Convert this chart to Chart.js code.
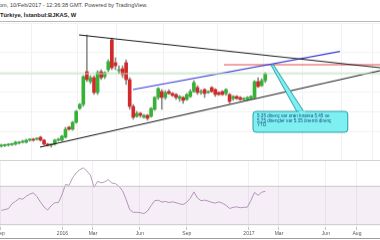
<!DOCTYPE html>
<html>
<head>
<meta charset="utf-8">
<script src="https://cdn.jsdelivr.net/npm/chart.js@4.4.1/dist/chart.umd.min.js"></script>
<style>
  html, body { margin: 0; padding: 0; background: #fff; }
  body { width: 380px; height: 240px; position: relative; overflow: hidden; font-family: "Liberation Sans", Arial, sans-serif; }
  #head { height: 21px; border-bottom: 1px solid #b8b8b8; }
  #head div { height: 10px; line-height: 10px; white-space: nowrap; }
  #main { display: block; margin-top: 1px; border-bottom: 1px solid #d2d2d2; }
  #rsi { display: block; }
  #foot { position: absolute; left: 0; top: 238px; width: 380px; height: 1px; background: #9c9c9c; }
</style>
</head>
<body>
<div id="head">
  <div style="font-size:5.6px;color:#444;margin-left:-1px">om, 10/Feb/2017 - 12:36:38 GMT. Powered by TradingView.</div>
  <div style="font-size:5.8px;color:#222;font-weight:bold">Türkiye, İstanbul:BJKAS, W</div>
</div>
<canvas id="main" width="380" height="138"></canvas>
<canvas id="rsi" width="380" height="78"></canvas>
<div id="foot"></div>

<script>
// weekly bars, x = days since 1 Jan 2016
const firstWeek = -120;
const opens  = [1.25,1.275,1.30,1.325,1.35,1.40,1.45,1.45,1.55,1.60,1.60,1.70,1.55,1.35,1.30,1.35,1.55,1.55,1.70,2.20,
                2.10,2.45,3.15,3.35,5.00,4.50,4.70,3.95,5.00,4.75,5.10,6.60,5.45,5.05,5.15,5.45,4.60,3.25,2.75,2.90,
                2.70,2.80,2.75,3.10,3.70,4.00,3.70,4.00,3.90,3.85,3.65,3.70,3.60,3.75,4.00,4.20,3.95,4.10,3.95,4.20,
                4.10,3.95,4.00,3.90,3.85,3.65,3.75,3.70,3.60,3.60,3.65,3.70,4.50,4.30,4.55];
const highs  = [1.35,1.35,1.375,1.40,1.50,1.50,1.55,1.60,1.625,1.65,1.675,1.75,1.60,1.40,1.375,1.60,1.65,1.80,2.20,2.25,
                2.50,3.05,3.40,4.80,6.85,4.80,4.80,5.05,5.10,5.00,5.60,6.70,5.70,5.30,5.30,5.60,4.70,3.35,3.00,2.95,
                2.85,2.85,3.20,3.75,4.20,4.10,4.05,4.10,3.95,3.90,3.80,3.75,3.90,4.10,4.55,4.30,4.10,4.15,4.05,4.25,
                4.15,4.00,4.05,4.15,3.90,3.80,3.80,3.75,3.70,3.75,3.80,4.55,4.70,4.65,4.95];
const lows   = [1.20,1.225,1.25,1.275,1.30,1.35,1.40,1.40,1.50,1.50,1.55,1.50,1.30,1.25,1.20,1.30,1.50,1.50,1.65,2.05,
                2.05,2.40,3.10,3.25,4.50,4.40,3.85,3.85,4.60,4.65,5.00,5.10,5.10,4.90,4.70,4.35,3.10,2.60,2.70,2.70,
                2.65,2.55,2.70,3.05,3.60,3.10,3.60,3.85,3.75,3.60,3.50,3.40,3.55,3.70,3.95,3.85,3.85,3.70,3.90,3.95,
                3.75,3.80,3.80,3.80,3.40,3.55,3.60,3.55,3.55,3.55,3.60,3.65,4.20,4.25,4.45];
const closes = [1.30,1.30,1.325,1.35,1.45,1.45,1.50,1.55,1.575,1.55,1.625,1.55,1.35,1.30,1.325,1.55,1.60,1.75,2.10,2.10,
                2.45,3.00,3.35,4.75,4.60,4.70,3.95,4.95,4.70,4.95,5.50,5.20,5.30,5.10,4.85,4.60,3.25,2.70,2.90,2.80,
                2.80,2.65,3.15,3.70,4.15,3.70,3.95,3.90,3.80,3.70,3.75,3.55,3.85,4.00,4.45,3.95,4.00,3.90,4.00,4.00,
                3.85,3.85,3.85,4.10,3.50,3.75,3.65,3.60,3.65,3.70,3.75,4.50,4.25,4.55,4.90];
const rsi    = [44.9,45.8,46.7,51.9,54.3,57.3,56.5,59.7,61.8,63.2,59.2,53.6,48.4,45.2,49.8,52.9,53.0,61.0,71.9,71.0,
                78.9,83.9,87.3,89.2,85.9,81.6,69.0,75.2,73.6,74.6,76.9,73.4,72.8,69.9,65.3,56.3,45.7,42.9,42.9,42.5,
                41.6,44.2,49.9,55.0,55.5,53.6,54.2,53.1,53.8,52.9,51.7,51.0,53.4,57.6,64.2,57.8,55.0,55.6,54.6,53.3,
                52.5,53.8,52.4,50.2,46.9,48.0,48.6,47.7,48.1,48.3,55.4,63.6,60.6,63.8,64.8];

const tickDays   = [-122, 0, 60, 152, 244, 366, 425, 517, 578];
const tickLabels = ['Sep', '2016', 'Mar', 'Jun', 'Sep', '2017', 'Mar', 'Jun', 'Aug'];

// drawings: [day, price]
const upperTrend = [[32.6, 6.85], [623.2, 5.20]];
const lowerTrend = [[-44, 1.20], [623.2, 5.05]];
const blueTrend  = [[138.5, 4.10], [544.7, 6.015]];
const resistance = [[317, 5.35], [623.2, 5.35]];
const noteLines  = ['5.35 direnç var oran kırarsa 5.45 ve', '5.75 dirençler var 5.35 önemli direnç', 'YTD'];
const noteTip    = [411, 5.35];
const noteBox    = [374, 560, 3.0, 1.95];
const noteBase   = [462, 476];

const xMin = -122.5, xMax = 623.2;
const font = '"Liberation Sans", Arial, sans-serif';

const days = opens.map((_, i) => firstWeek + 7 * i);
const candleColors = opens.map((o, i) => closes[i] >= o ? '#36b336' : '#d22a2a');
const lastClose = closes[closes.length - 1];

const pts = arr => arr.map(p => ({x: p[0], y: p[1]}));
const lineSet = (data, color, width) => ({
  type: 'line', data: pts(data), borderColor: color, borderWidth: width,
  pointRadius: 0, fill: false, tension: 0, order: 1
});

const notePlugin = {
  id: 'note',
  afterDatasetsDraw(chart) {
    const {ctx} = chart;
    const x = chart.scales.x, y = chart.scales.y;
    const l = x.getPixelForValue(noteBox[0]), r = x.getPixelForValue(noteBox[1]);
    const t = y.getPixelForValue(noteBox[2]), b = y.getPixelForValue(noteBox[3]);
    const tx = x.getPixelForValue(noteTip[0]), ty = y.getPixelForValue(noteTip[1]);
    const b0 = x.getPixelForValue(noteBase[0]), b1 = x.getPixelForValue(noteBase[1]);
    ctx.save();
    ctx.fillStyle = '#7ff0f2';
    ctx.strokeStyle = '#2a9ca4';
    ctx.lineWidth = 1;
    // pointer
    ctx.beginPath();
    ctx.moveTo(tx - 1, ty);
    ctx.lineTo(tx + 1.5, ty);
    ctx.lineTo(b1, t + 2);
    ctx.lineTo(b0, t + 2);
    ctx.closePath();
    ctx.fill();
    ctx.stroke();
    // box
    ctx.beginPath();
    ctx.roundRect(l, t, r - l, b - t, 3);
    ctx.fill();
    ctx.stroke();
    ctx.fillRect(b0 + 1, t - 0.5, b1 - b0 - 1, 2);
    ctx.fillStyle = '#1f4a7a';
    ctx.font = '4.6px ' + font;
    ctx.textBaseline = 'middle';
    noteLines.forEach((s, k) => ctx.fillText(s, l + 4, t + 5 + k * 4.6));
    ctx.restore();
  }
};

new Chart(document.getElementById('main'), {
  type: 'bar',
  data: {
    datasets: [
      { data: days.map((d, i) => ({x: d, y: [lows[i], highs[i]]})), backgroundColor: '#8f8f8f',
        barThickness: 1, grouped: false, order: 3 },
      { data: days.map((d, i) => ({x: d, y: [opens[i], closes[i]]})), backgroundColor: candleColors,
        barThickness: 3, minBarLength: 1, grouped: false, order: 2 },
      lineSet([[xMin, lastClose], [xMax, lastClose]], '#b3dfb3', 1),
      lineSet(upperTrend, '#1e1e1e', 1.2),
      lineSet(lowerTrend, '#1e1e1e', 1.2),
      lineSet(blueTrend, '#3a3ad8', 1.2),
      lineSet(resistance, '#e24848', 1)
    ]
  },
  options: {
    responsive: false, animation: false, devicePixelRatio: 1,
    layout: { padding: 0 },
    plugins: { legend: { display: false }, tooltip: { enabled: false } },
    scales: {
      x: {
        type: 'linear', min: xMin, max: xMax, offset: false,
        afterBuildTicks: s => { s.ticks = tickDays.map(v => ({value: v})); },
        afterFit: s => { s.height = 0; s.paddingLeft = 0; s.paddingRight = 0; },
        ticks: { display: false },
        grid: { color: '#f1f1f1', drawTicks: false },
        border: { display: false }
      },
      y: {
        min: 0.55, max: 7.45,
        afterFit: s => { s.width = 0; },
        ticks: { display: false, stepSize: 1 },
        grid: { color: '#f3f3f3', drawTicks: false },
        border: { display: false }
      }
    }
  },
  plugins: [notePlugin]
});

new Chart(document.getElementById('rsi'), {
  type: 'line',
  data: {
    datasets: [
      { data: [{x: xMin, y: 70}, {x: xMax, y: 70}], borderColor: '#c8c8c8', borderWidth: 1, pointRadius: 0, fill: false },
      { data: [{x: xMin, y: 30}, {x: xMax, y: 30}], borderColor: '#c8c8c8', borderWidth: 1, pointRadius: 0,
        fill: '-1', backgroundColor: 'rgba(150, 70, 170, 0.09)' },
      { data: days.map((d, i) => ({x: d, y: rsi[i]})), borderColor: '#b69abb', borderWidth: 1,
        pointRadius: 0, tension: 0, fill: false }
    ]
  },
  options: {
    responsive: false, animation: false, devicePixelRatio: 1,
    layout: { padding: 0 },
    plugins: { legend: { display: false }, tooltip: { enabled: false } },
    scales: {
      x: {
        type: 'linear', min: xMin, max: xMax, offset: false,
        afterBuildTicks: s => { s.ticks = tickDays.map(v => ({value: v})); },
        afterFit: s => { s.height = 12; s.paddingLeft = 0; s.paddingRight = 0; },
        ticks: {
          callback: v => tickLabels[tickDays.indexOf(v)],
          autoSkip: false, maxRotation: 0, padding: 1,
          color: '#555', font: { size: 5, family: font }
        },
        grid: { color: '#f1f1f1', tickLength: 3, tickColor: '#c4c4c4' },
        border: { display: false }
      },
      y: {
        min: 27.6, max: 96.35,
        afterFit: s => { s.width = 0; },
        ticks: { display: false },
        grid: { display: false },
        border: { display: false }
      }
    }
  }
});
</script>
</body>
</html>
